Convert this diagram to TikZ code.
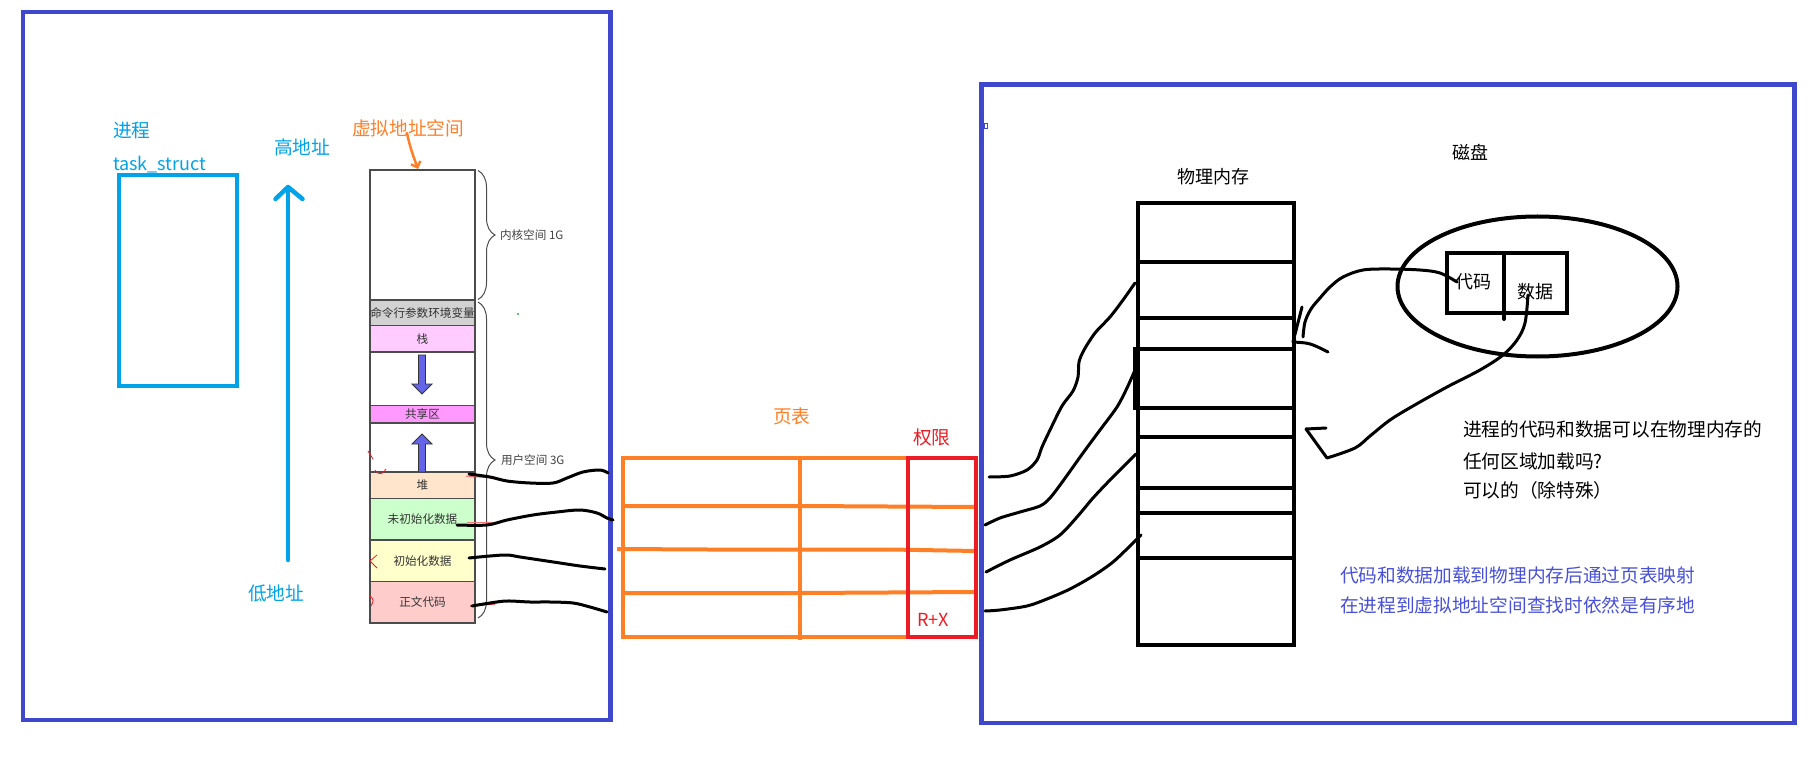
\documentclass[tikz,border=0pt]{standalone}
\usepackage{fontspec}
\setmainfont{Noto Sans CJK SC}
\usetikzlibrary{arrows.meta,decorations.pathreplacing,shapes.geometric}
\definecolor{pblue}{RGB}{63,72,204}
\definecolor{ptxtblue}{RGB}{72,80,215}
\definecolor{pcyan}{RGB}{0,162,232}
\definecolor{porange}{RGB}{255,127,39}
\definecolor{pred}{RGB}{237,28,36}
\definecolor{parrow}{RGB}{100,100,232}
\definecolor{cgray}{RGB}{210,210,210}
\definecolor{cstack}{RGB}{255,204,255}
\definecolor{cshm}{RGB}{255,153,255}
\definecolor{cheap}{RGB}{255,229,204}
\definecolor{cbss}{RGB}{204,255,204}
\definecolor{cdata}{RGB}{255,255,204}
\definecolor{ctext}{RGB}{255,204,204}
\definecolor{cgreen}{RGB}{34,177,76}
\begin{document}
\begin{tikzpicture}[x=1pt,y=-1pt,
  every node/.style={inner sep=0pt,outer sep=0pt},
  lbl/.style={anchor=west},
  fbig/.style={font=\fontsize{18.7}{22}\selectfont},
  fmid/.style={font=\fontsize{18}{22}\selectfont},
  fsmall/.style={font=\fontsize{11.6}{14}\selectfont},
  cell/.style={draw=black!70,line width=1.4pt,minimum width=105pt,fsmall,text=black!80},
  hand/.style={line width=3pt,line cap=round,line join=round},
  frame/.style={pblue,line width=4.5pt},
  pbrace/.style={draw=black!70,line width=1pt,decorate,decoration={brace,amplitude=17pt,aspect=0.5}},
  varrow/.style={fill=parrow,draw=black!80,line width=0.8pt,line join=miter},
  redmark/.style={pred,line width=0.8pt},
]
\useasboundingbox (0,0) rectangle (1814,783);

% ===== outer frames =====
\draw[frame] (23,12) rectangle (610.5,720);
\draw[frame] (981.5,84.5) rectangle (1794.5,723);
\draw[pblue,line width=1.5pt] (984,123.5) rectangle (987.5,128.5);

% ===== process (task_struct) =====
\node[lbl,fbig,text=pcyan] (proc) at (113,131) {进程};
\node[lbl,fmid,text=pcyan] (task) at (113,165) {task\_struct};
\draw[pcyan,line width=4.5pt] (119,175) rectangle (237,386);

% ===== high / low address =====
\node[lbl,fbig,text=pcyan] (hi) at (274,147) {高地址};
\node[lbl,fbig,text=pcyan] (lo) at (248,593) {低地址};
\coordinate (arrbot) at (288,560);
\coordinate (arrtop) at (288,187);
\draw[pcyan,line width=4.5pt,line cap=round] (arrbot) -- (arrtop);
\draw[pcyan,line width=4.5pt,line cap=round,line join=round] (275.5,199) -- (arrtop) -- (302.5,199);

% ===== virtual address space column =====
\node[lbl,fbig,text=porange] (vas) at (352,128) {虚拟地址空间};
\node[cell,minimum height=130pt] (kern) at (422.5,235) {};
\node[cell,fill=cgray,minimum height=25.5pt] (argv) at (422.5,312.75) {命令行参数环境变量};
\node[cell,fill=cstack,minimum height=26.5pt] (stack) at (422.5,338.75) {栈};
\node[cell,minimum height=53.5pt] (gap1) at (422.5,378.75) {};
\node[cell,fill=cshm,minimum height=17.5pt] (shm) at (422.5,414.25) {共享区};
\node[cell,minimum height=49pt] (gap2) at (422.5,447.5) {};
\node[cell,fill=cheap,minimum height=26.4pt] (heap) at (422.5,485.2) {堆};
\node[cell,fill=cbss,minimum height=41.6pt] (bss) at (422.5,519.2) {未初始化数据};
\node[cell,fill=cdata,minimum height=41.4pt] (data) at (422.5,560.7) {初始化数据};
\node[cell,fill=ctext,minimum height=41.6pt] (code) at (422.5,602.2) {正文代码};

% orange hand arrow to the column
\coordinate (vasfrom) at (407,133);
\coordinate (vasto) at (418,169);
\draw[porange,line width=2.5pt,line cap=round,-{Straight Barb[length=5pt,width=10pt]}]
  (vasfrom) .. controls (410,148) and (414,158) .. (vasto);

% stack / heap growth arrows
\draw[varrow] (418.5,355) -- (425.5,355) -- (425.5,384) -- (432,384) -- (422,394) -- (412,384) -- (418.5,384) -- cycle;
\draw[varrow] (418.5,472) -- (425.5,472) -- (425.5,444) -- (432,444) -- (422,434) -- (412,444) -- (418.5,444) -- cycle;

% braces
\draw[pbrace] (478,170.5) -- (478,299.5);
\draw[pbrace] (478,302) -- (478,618);
\node[lbl,fsmall,text=black!75] (klbl) at (500,235) {内核空间 1G};
\node[lbl,fsmall,text=black!75] (ulbl) at (501,460) {用户空间 3G};
\fill[cgreen] (518,314) circle (1.2pt);

% small red marks
\draw[redmark] (368,451) -- (373,459);
\draw[redmark] (375,470) .. controls (379,476) and (383,474) .. (386,469);
\draw[redmark] (377,555) -- (370,561) -- (377,568);
\draw[redmark] (370,596) .. controls (374,600) .. (371,606);
\draw[pred!70,line width=1pt] (466,476) -- (493,478);
\draw[pred!60,line width=1pt] (467,522) -- (493,522);
\draw[pred,line width=1pt] (470,606) -- (495,604);

% ===== page table =====
\node[lbl,fbig,text=porange] (ptlbl) at (773,416) {页表};
\node[lbl,fbig,text=pred] (perm) at (913,437) {权限};
\draw[porange,line width=4pt] (623,458) rectangle (976,637);
\draw[porange,line width=4pt] (800,458) -- (800,640);
\draw[porange,line width=4pt] (623,506) -- (800,506) -- (976,507);
\draw[porange,line width=4pt] (617,549) -- (708,549.5) -- (890,549.5) -- (976,551);
\draw[porange,line width=4pt] (623,593) -- (800,593) -- (976,592);
\draw[pred,line width=4.5pt] (908,458) rectangle (976,637);
\node[lbl,fmid,text=pred] (rx) at (917,620) {R+X};

% ===== virtual -> page table connectors =====
\coordinate (v1a) at (469,474); \coordinate (v1b) at (608,473);
\coordinate (v2a) at (457,525); \coordinate (v2b) at (613,520);
\coordinate (v3a) at (469,558); \coordinate (v3b) at (605,569);
\coordinate (v4a) at (472,606); \coordinate (v4b) at (607,612);
\draw[hand] plot[smooth,tension=0.55] coordinates {(v1a) (490,477) (507,481) (530,483) (553,483) (567,478) (583,472) (600,470) (v1b)};
\draw[hand] plot[smooth,tension=0.55] coordinates {(v2a) (487,525) (507,520) (533,515) (557,512) (580,510) (597,513) (607,518) (v2b)};
\draw[hand] plot[smooth,tension=0.55] coordinates {(v3a) (490,556) (507,555) (520,557) (540,560) (560,563) (580,566) (v3b)};
\draw[hand] plot[smooth,tension=0.55] coordinates {(v4a) (490,603) (507,601) (530,602) (550,602) (573,603) (590,607) (v4b)};

% ===== physical memory =====
\node[lbl,fmid] (pmlbl) at (1177,177) {物理内存};
\draw[line width=4pt] (1138,203) rectangle (1294,645);
\draw[line width=4pt] (1135,349) rectangle (1294,408);
\foreach \yy in {262,318,349,408,437,488,513,558} \draw[line width=4pt] (1138,\yy) -- (1294,\yy);

% ===== page table -> memory connectors =====
\coordinate (p1a) at (989,477); \coordinate (p1b) at (1135,283);
\coordinate (p2a) at (985,525); \coordinate (p2b) at (1135,370);
\coordinate (p3a) at (986,572); \coordinate (p3b) at (1136,454);
\coordinate (p4a) at (985,611); \coordinate (p4b) at (1141,535);
\draw[hand] plot[smooth,tension=0.5] coordinates {(p1a) (1010,476) (1027,470) (1037,460) (1042,447) (1050,430) (1062,406) (1073,391) (1078,377) (1079,362) (1084,350) (1095,333) (1110,317) (1123,300) (p1b)};
\draw[hand] plot[smooth,tension=0.5] coordinates {(p2a) (1000,518) (1020,512) (1040,506) (1050,498) (1063,481) (1083,453) (1100,430) (1117,407) (1127,388) (p2b)};
\draw[hand] plot[smooth,tension=0.5] coordinates {(p3a) (1010,560) (1040,547) (1060,535) (1077,517) (1093,498) (1110,480) (1127,463) (p3b)};
\draw[hand] plot[smooth,tension=0.5] coordinates {(p4a) (1000,610) (1027,606) (1047,599) (1070,589) (1093,576) (1113,562) (1132,544) (p4b)};

% ===== disk =====
\node[lbl,fmid] (disklbl) at (1452,152) {磁盘};
\node[draw,line width=4pt,ellipse,minimum width=280pt,minimum height=140pt] (disk) at (1537.5,286.5) {};
\draw[line width=4pt] (1447,253) rectangle (1567,313);
\draw[line width=4pt,line cap=round] (1504,253) -- (1504,319);
\node[lbl,fmid] (dcode) at (1455,282) {代码};
\node[lbl,fmid] (ddata) at (1517,292) {数据};

% code -> memory
\coordinate (cfrom) at (1457,282);
\coordinate (cend) at (1303,337);
\coordinate (ctip) at (1293,342);
\draw[hand] plot[smooth,tension=0.55] coordinates {(cfrom) (1440,273) (1420,270) (1390,269) (1363,270) (1343,277) (1330,287) (1320,298) (1311,309) (1305,322) (cend)};
\draw[hand] (1302,307) -- (ctip);
\draw[hand] (ctip) .. controls (1310,343) .. (1328,352);

% data -> memory
\coordinate (dfrom) at (1528,295);
\coordinate (dtip) at (1306,429);
\draw[hand] plot[smooth,tension=0.55] coordinates {(dfrom) (1525,323) (1517,340) (1503,355) (1480,370) (1447,387) (1413,406) (1390,420) (1370,436) (1355,448) (1327,458)} -- (dtip);
\draw[hand] (dtip) -- (1326,428);

% ===== texts =====
\node[lbl,fbig] (q1) at (1463,429) {进程的代码和数据可以在物理内存的};
\node[lbl,fbig] (q2) at (1463,461) {任何区域加载吗?};
\node[lbl,fbig] (q3) at (1463,490) {可以的（除特殊）};
\node[lbl,fbig,text=ptxtblue] (n1) at (1340,575) {代码和数据加载到物理内存后通过页表映射};
\node[lbl,fbig,text=ptxtblue] (n2) at (1340,605) {在进程到虚拟地址空间查找时依然是有序地};
\end{tikzpicture}
\end{document}
